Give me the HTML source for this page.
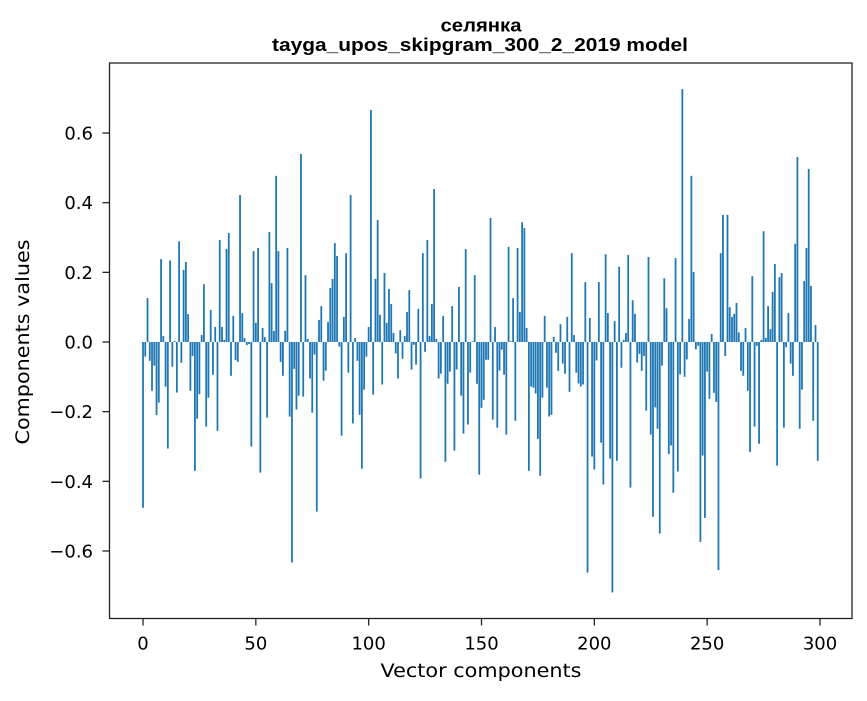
<!DOCTYPE html>
<html><head><meta charset="utf-8"><style>
body{margin:0;background:#fff;}
svg text{font-family:"DejaVu Sans","Liberation Sans",sans-serif;fill:#000;}
</style></head><body>
<svg id="chart" width="867" height="696" xmlns="http://www.w3.org/2000/svg">
<rect width="867" height="696" fill="#fff"/>
<text x="481" y="31.5" text-anchor="middle" font-size="18" font-weight="bold" textLength="81" lengthAdjust="spacingAndGlyphs" style="font-family:'Liberation Sans',sans-serif">селянка</text>
<text x="480" y="51" text-anchor="middle" font-size="18" font-weight="bold" textLength="416" lengthAdjust="spacingAndGlyphs" style="font-family:'Liberation Sans',sans-serif">tayga_upos_skipgram_300_2_2019 model</text>
<g id="bars"></g>
<g id="axes"></g>
<text x="481" y="677" text-anchor="middle" font-size="19" textLength="201" lengthAdjust="spacingAndGlyphs">Vector components</text>
<text transform="translate(29,342) rotate(-90)" text-anchor="middle" font-size="19" textLength="205" lengthAdjust="spacingAndGlyphs">Components values</text>
</svg>
<script>
const values = [
-0.476,-0.042,0.126,-0.054,-0.14,-0.068,-0.21,-0.174,0.238,0.017,
-0.128,-0.306,0.234,-0.071,0.003,-0.145,0.289,-0.06,0.207,0.23,
0.08,-0.14,-0.04,-0.37,-0.22,-0.15,0.02,0.166,-0.243,-0.16,
0.092,-0.094,0.043,-0.255,0.293,0.043,0.006,0.267,0.313,-0.097,
0.075,-0.052,-0.057,0.422,0.083,0.011,-0.009,-0.006,-0.3,0.261,
0.055,0.27,-0.375,0.04,0.014,-0.217,0.316,0.169,0.032,0.477,
0.261,-0.057,-0.097,0.032,0.27,-0.214,-0.633,-0.077,-0.194,-0.154,
0.54,-0.157,0.192,0.009,-0.105,-0.203,-0.036,-0.487,0.063,0.103,
-0.111,-0.082,0.057,0.155,0.181,0.284,0.247,-0.013,-0.269,0.072,
0.255,-0.088,0.422,-0.234,0.011,-0.054,-0.209,-0.364,-0.137,-0.042,
0.043,0.666,-0.151,0.181,0.35,0.078,-0.122,0.198,0.055,0.152,
0.109,0.026,-0.033,-0.105,0.034,-0.048,0.017,0.086,0.149,-0.079,
-0.008,-0.065,0.095,-0.392,0.255,-0.028,0.293,0.017,0.109,0.439,
0.009,-0.105,-0.091,0.075,-0.344,-0.12,-0.085,0.103,-0.312,-0.079,
0.158,-0.154,-0.263,0.267,-0.237,-0.088,0.002,0.192,-0.12,-0.381,
-0.189,-0.166,-0.051,-0.051,0.356,-0.223,0.043,-0.246,-0.082,-0.022,
-0.094,-0.266,0.273,0.002,0.126,-0.226,0.27,0.086,0.344,0.327,
0.04,-0.37,-0.128,-0.131,-0.148,-0.278,-0.384,-0.16,0.075,-0.131,
-0.214,-0.209,0.015,-0.031,-0.083,0.051,-0.062,-0.091,0.072,-0.143,
0.255,0.02,-0.088,-0.119,-0.128,-0.122,0.172,-0.662,0.069,-0.329,
-0.366,-0.053,0.172,-0.289,-0.409,0.252,0.083,-0.335,-0.719,0.06,
-0.341,0.216,-0.074,0.006,0.026,0.25,-0.418,0.12,0.081,-0.059,
-0.034,-0.083,-0.04,-0.197,0.244,-0.266,-0.502,-0.188,-0.249,-0.55,
-0.068,0.183,0.097,-0.322,-0.297,-0.433,0.241,-0.372,-0.093,0.726,
-0.1,-0.05,0.066,0.477,0.201,-0.021,-0.011,-0.574,-0.326,-0.505,
-0.085,-0.163,0.023,-0.146,-0.172,-0.655,0.255,0.365,-0.04,0.365,
0.1,0.072,0.081,0.112,0.028,-0.083,-0.097,0.04,-0.14,-0.316,
0.189,-0.243,-0.011,-0.292,0.006,0.318,0.012,0.103,0.037,0.144,
0.224,-0.355,0.186,0.198,-0.246,-0.015,0.083,-0.062,-0.097,0.282,
0.531,-0.249,-0.137,0.175,0.27,0.497,0.161,-0.226,0.049,-0.341
];
const xTicks = [0,50,100,150,200,250,300];
const yTicks = [-0.6,-0.4,-0.2,0.0,0.2,0.4,0.6];
const yTickLabels = ["\u22120.6","\u22120.4","\u22120.2","0.0","0.2","0.4","0.6"];

const NS="http://www.w3.org/2000/svg";
const L=109.5,R=852,T=63,B=618.5;
const xs = i => 143 + i*(820-143)/300;
const ys = v => 342 - v*348.3;
const bars=document.getElementById('bars');
values.forEach((v,i)=>{
  const r=document.createElementNS(NS,'rect');
  const y0=ys(0), y1=ys(v);
  r.setAttribute('x', xs(i)-0.9);
  r.setAttribute('width', 1.8);
  r.setAttribute('y', Math.min(y0,y1));
  r.setAttribute('height', Math.max(Math.abs(y1-y0),0.3));
  r.setAttribute('fill','#1f77b4');
  
  
  bars.appendChild(r);
});
const ax=document.getElementById('axes');
const frame=document.createElementNS(NS,'rect');
frame.setAttribute('x',L);frame.setAttribute('y',T);
frame.setAttribute('width',R-L);frame.setAttribute('height',B-T);
frame.setAttribute('fill','none');frame.setAttribute('stroke','#222');frame.setAttribute('stroke-width','1.3');


ax.appendChild(frame);
xTicks.forEach(t=>{
  const x=xs(t);
  const l=document.createElementNS(NS,'line');
  l.setAttribute('x1',x);l.setAttribute('x2',x);l.setAttribute('y1',B);l.setAttribute('y2',B+7);
  l.setAttribute('stroke','#222');l.setAttribute('stroke-width','1.3');
  
  
  ax.appendChild(l);
  const tx=document.createElementNS(NS,'text');
  tx.setAttribute('x',x);tx.setAttribute('y',B+31);tx.setAttribute('text-anchor','middle');tx.setAttribute('font-size','18');
  tx.textContent=t;
  
  
  ax.appendChild(tx);
});
yTicks.forEach((t,k)=>{
  const y=ys(t);
  const l=document.createElementNS(NS,'line');
  l.setAttribute('x1',L-7);l.setAttribute('x2',L);l.setAttribute('y1',y);l.setAttribute('y2',y);
  l.setAttribute('stroke','#222');l.setAttribute('stroke-width','1.3');
  
  
  ax.appendChild(l);
  const tx=document.createElementNS(NS,'text');
  tx.setAttribute('x',93);tx.setAttribute('y',y+6.5);tx.setAttribute('text-anchor','end');tx.setAttribute('font-size','18');
  tx.textContent=yTickLabels[k];
  
  
  ax.appendChild(tx);
});
</script>
</body></html>
